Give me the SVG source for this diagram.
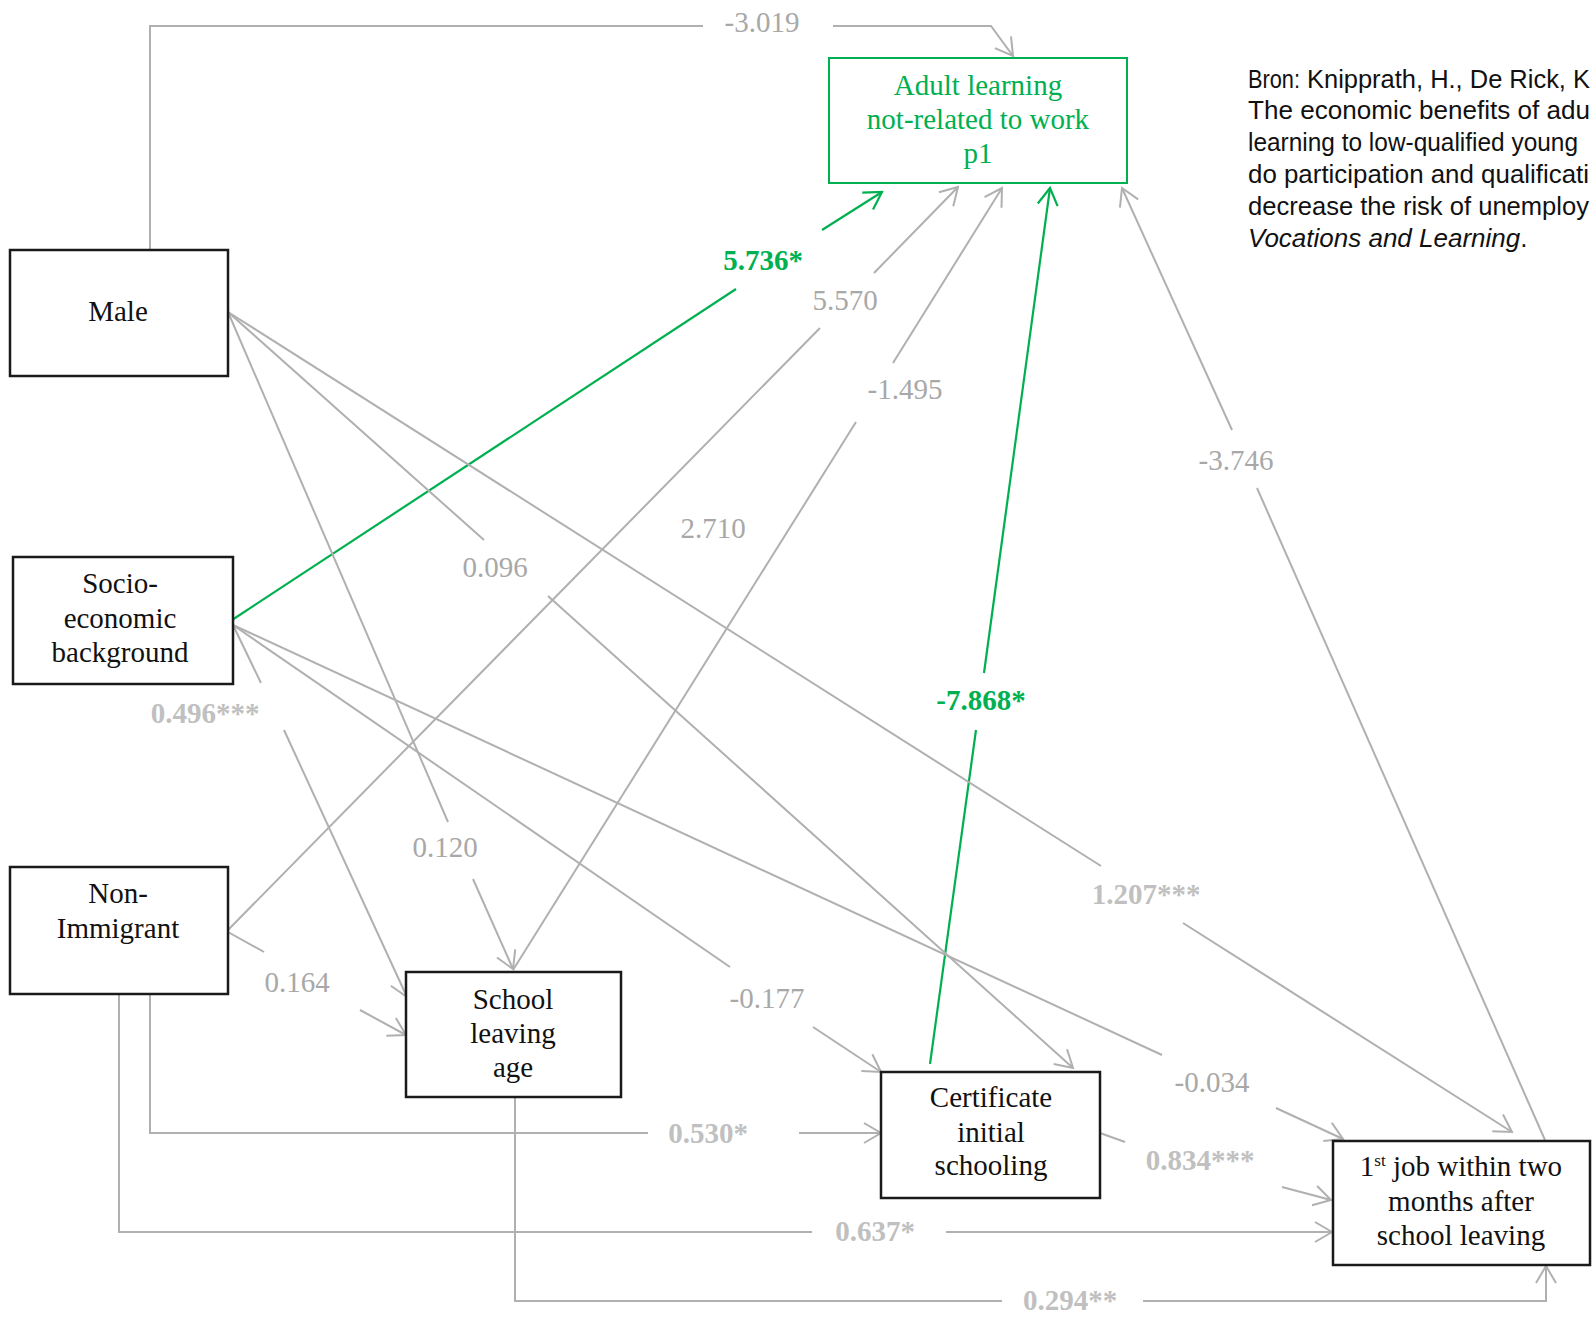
<svg xmlns="http://www.w3.org/2000/svg" width="1594" height="1319" viewBox="0 0 1594 1319">
<style>
.box{fill:#fff;stroke:#1a1a1a;stroke-width:2.5}
.gbox{fill:#fff;stroke:#00b050;stroke-width:2}
.nt{font-family:"Liberation Serif","Times New Roman",serif;font-size:29px;fill:#111;text-anchor:middle}
.gt{font-family:"Liberation Serif","Times New Roman",serif;font-size:29px;fill:#00b050;text-anchor:middle}
.c{fill:none;stroke:#b0b0b0;stroke-width:2}
.cg{fill:none;stroke:#00b050;stroke-width:2.2}
.lb{font-family:"Liberation Serif","Times New Roman",serif;font-size:29px;fill:#a8a8a8;text-anchor:middle}
.lbb{font-family:"Liberation Serif","Times New Roman",serif;font-size:29px;font-weight:bold;fill:#c0c0c0;text-anchor:middle}
.lbg{font-family:"Liberation Serif","Times New Roman",serif;font-size:29px;font-weight:bold;fill:#00b050;text-anchor:middle}
.src{font-family:"Liberation Sans",Arial,sans-serif;font-size:26px;fill:#111}
</style>
<defs>
<marker id="ar" viewBox="-20 -12 22 24" refX="0" refY="0" markerWidth="22" markerHeight="24" markerUnits="userSpaceOnUse" orient="auto"><path d="M-17,-10 L0,0 L-17,10" fill="none" stroke="#b0b0b0" stroke-width="2"/></marker>
<marker id="arg" viewBox="-20 -12 22 24" refX="0" refY="0" markerWidth="22" markerHeight="24" markerUnits="userSpaceOnUse" orient="auto"><path d="M-17,-10 L0,0 L-17,10" fill="none" stroke="#00b050" stroke-width="2.2"/></marker>
</defs>
<rect width="1594" height="1319" fill="#fff"/>

<g id="connectors">
  <path class="c" d="M150,250 V26 H703"/>
  <path class="c" d="M833,26 H991 L1013,56" marker-end="url(#ar)"/>
  <text class="lb" x="762" y="32">-3.019</text>
  <path class="cg" d="M232,620 L736,289"/>
  <path class="cg" d="M822,230 L882,192" marker-end="url(#arg)"/>
  <text class="lbg" x="763" y="270">5.736*</text>
  <path class="c" d="M228,930 L820,328"/>
  <path class="c" d="M874,273 L958,187" marker-end="url(#ar)"/>
  <text class="lb" x="845" y="310">5.570</text>
  <path class="c" d="M513,970 L856,422"/>
  <path class="c" d="M893,363 L1002,188" marker-end="url(#ar)"/>
  <text class="lb" x="905" y="399">-1.495</text>
  <path class="cg" d="M930,1064 L976,730"/>
  <path class="cg" d="M984,673 L1050,188" marker-end="url(#arg)"/>
  <text class="lbg" x="981" y="710">-7.868*</text>
  <path class="c" d="M1545,1140 L1257,488"/>
  <path class="c" d="M1232,430 L1122,188" marker-end="url(#ar)"/>
  <text class="lb" x="1236" y="470">-3.746</text>
  <text class="lb" x="713" y="538">2.710</text>
  <path class="c" d="M228,312 L448,822"/>
  <path class="c" d="M473,879 L513,969" marker-end="url(#ar)"/>
  <text class="lb" x="445" y="857">0.120</text>
  <path class="c" d="M228,312 L484,540"/>
  <path class="c" d="M548,596 L1073,1068" marker-end="url(#ar)"/>
  <text class="lb" x="495" y="577">0.096</text>
  <path class="c" d="M228,312 L1101,866"/>
  <path class="c" d="M1183,923 L1512,1132" marker-end="url(#ar)"/>
  <text class="lbb" x="1146" y="904">1.207***</text>
  <path class="c" d="M233,625 L261,683"/>
  <path class="c" d="M284,730 L407,997" marker-end="url(#ar)"/>
  <text class="lbb" x="205" y="723">0.496***</text>
  <path class="c" d="M233,625 L730,967"/>
  <path class="c" d="M813,1027 L881,1072" marker-end="url(#ar)"/>
  <text class="lb" x="767" y="1008">-0.177</text>
  <path class="c" d="M233,625 L1162,1055"/>
  <path class="c" d="M1276,1108 L1343,1139" marker-end="url(#ar)"/>
  <text class="lb" x="1212" y="1092">-0.034</text>
  <path class="c" d="M228,932 L264,952"/>
  <path class="c" d="M360,1010 L406,1035" marker-end="url(#ar)"/>
  <text class="lb" x="297" y="992">0.164</text>
  <path class="c" d="M150,994 V1133 H648"/>
  <path class="c" d="M799,1133 H881" marker-end="url(#ar)"/>
  <text class="lbb" x="708" y="1143">0.530*</text>
  <path class="c" d="M119,994 V1232 H812"/>
  <path class="c" d="M946,1232 H1332" marker-end="url(#ar)"/>
  <text class="lbb" x="875" y="1241">0.637*</text>
  <path class="c" d="M515,1097 V1301 H1002"/>
  <path class="c" d="M1143,1301 H1546 V1266" marker-end="url(#ar)"/>
  <text class="lbb" x="1070" y="1310">0.294**</text>
  <path class="c" d="M1100,1133 L1125,1142"/>
  <path class="c" d="M1282,1187 L1331,1200" marker-end="url(#ar)"/>
  <text class="lbb" x="1200" y="1170">0.834***</text>
</g>

<g id="node-adult">
  <rect class="gbox" x="829" y="58" width="298" height="125"/>
  <text class="gt" x="978" y="95">Adult learning</text>
  <text class="gt" x="978" y="129">not-related to work</text>
  <text class="gt" x="978" y="163">p1</text>
</g>
<g id="node-male">
  <rect class="box" x="10" y="250" width="218" height="126"/>
  <text class="nt" x="118" y="321">Male</text>
</g>
<g id="node-socio">
  <rect class="box" x="13" y="557" width="220" height="127"/>
  <text class="nt" x="120" y="593">Socio-</text>
  <text class="nt" x="120" y="628">economic</text>
  <text class="nt" x="120" y="662">background</text>
</g>
<g id="node-nonimmigrant">
  <rect class="box" x="10" y="867" width="218" height="127"/>
  <text class="nt" x="118" y="903">Non-</text>
  <text class="nt" x="118" y="938">Immigrant</text>
</g>
<g id="node-school">
  <rect class="box" x="406" y="972" width="215" height="125"/>
  <text class="nt" x="513" y="1009">School</text>
  <text class="nt" x="513" y="1043">leaving</text>
  <text class="nt" x="513" y="1077">age</text>
</g>
<g id="node-certificate">
  <rect class="box" x="881" y="1072" width="219" height="126"/>
  <text class="nt" x="991" y="1107">Certificate</text>
  <text class="nt" x="991" y="1142">initial</text>
  <text class="nt" x="991" y="1175">schooling</text>
</g>
<g id="node-firstjob">
  <rect class="box" x="1333" y="1141" width="257" height="124"/>
  <text class="nt" x="1461" y="1176">1<tspan font-size="17" dy="-10">st</tspan><tspan dy="10"> job within two</tspan></text>
  <text class="nt" x="1461" y="1211">months after</text>
  <text class="nt" x="1461" y="1245">school leaving</text>
</g>

<g id="source">
  <text class="src" x="1248" y="88" textLength="52" lengthAdjust="spacingAndGlyphs">Bron:</text>
  <text class="src" x="1307" y="88" textLength="283" lengthAdjust="spacingAndGlyphs">Knipprath, H., De Rick, K</text>
  <text class="src" x="1248" y="119" textLength="342" lengthAdjust="spacingAndGlyphs">The economic benefits of adu</text>
  <text class="src" x="1248" y="151" font-size="25" textLength="330" lengthAdjust="spacingAndGlyphs">learning to low-qualified young</text>
  <text class="src" x="1248" y="183" textLength="341" lengthAdjust="spacingAndGlyphs">do participation and qualificati</text>
  <text class="src" x="1248" y="215" textLength="341" lengthAdjust="spacingAndGlyphs">decrease the risk of unemploy</text>
  <text class="src" x="1248" y="247" font-style="italic">Vocations and Learning<tspan font-style="normal">.</tspan></text>
</g>
</svg>
